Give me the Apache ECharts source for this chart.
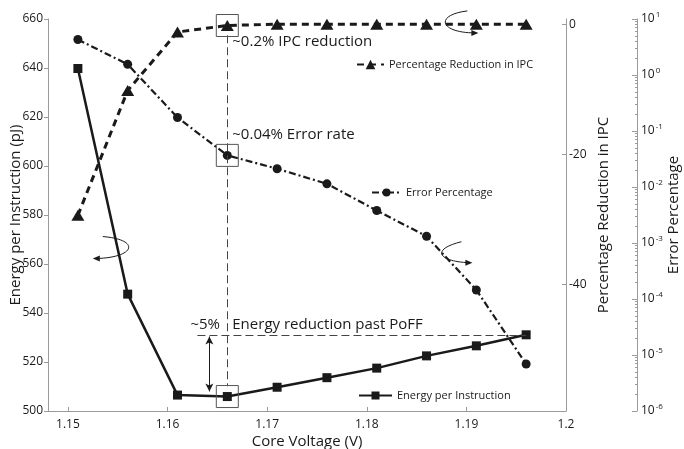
<!DOCTYPE html>
<html>
<head>
<meta charset="utf-8">
<script src="https://cdn.jsdelivr.net/npm/echarts@6/dist/echarts.min.js"></script>
<style>
  html, body { margin: 0; padding: 0; background: #fff; }
  #main { width: 684px; height: 449px; }
</style>
</head>
<body>
<div id="main"></div>
<script>
const voltage = [1.151, 1.156, 1.161, 1.166, 1.171, 1.176, 1.181, 1.186, 1.191, 1.196]
const energy = [639.8, 547.7, 506.5, 505.9, 509.7, 513.6, 517.5, 522.5, 526.6, 531.1]
const ipcReduction = [-29.4, -10.2, -1.2, -0.2, 0, 0, 0, 0, 0, 0]
const errorPct = [4.3, 1.55, 0.174, 0.0367, 0.0212, 0.0114, 0.0038, 0.00132, 0.000145, 0.0000069]

const xTicks = [1.15, 1.16, 1.17, 1.18, 1.19, 1.2]
const ipcTicks = [-40, -20, 0]

const font = 'Open Sans'
const ink = '#1a1a1a'
const axisGrey = '#9a9a9a'

const zip = (xs, ys) => xs.map((x, i) => [x, ys[i]])

const myChart = echarts.init(document.getElementById('main'))

const option = {
    animation: false,
    textStyle: { fontFamily: font },
    grid: { left: 48, right: 118, top: 19, bottom: 38, containLabel: false, outerBoundsMode: 'none' },
    legend: [
        {
            data: ['Percentage Reduction in IPC'],
            left: 351, top: 54,
            itemWidth: 27, itemHeight: 12,
            textStyle: { fontSize: 11, color: ink, fontFamily: font }
        },
        {
            data: ['Error Percentage'],
            left: 366, top: 182,
            itemWidth: 29, itemHeight: 10,
            textStyle: { fontSize: 11, color: ink, fontFamily: font }
        },
        {
            data: ['Energy per Instruction'],
            left: 353, top: 385,
            itemWidth: 33, itemHeight: 10,
            textStyle: { fontSize: 11, color: ink, fontFamily: font }
        }
    ],
    xAxis: {
        type: 'value',
        min: 1.148,
        max: 1.2,
        name: 'Core Voltage (V)',
        nameLocation: 'middle',
        nameGap: 23,
        nameMoveOverlap: false,
        nameTextStyle: { fontSize: 15, color: ink },
        axisLine: { onZero: false, lineStyle: { color: axisGrey } },
        axisTick: { inside: true, length: 4, customValues: xTicks, lineStyle: { color: axisGrey } },
        axisLabel: {
            customValues: xTicks,
            margin: 8,
            fontSize: 12,
            color: ink,
            formatter: v => String(+v.toFixed(2))
        },
        splitLine: { show: false }
    },
    yAxis: [
        {
            type: 'value',
            min: 500,
            max: 660,
            interval: 20,
            position: 'left',
            name: 'Energy per Instruction (pJ)',
            nameLocation: 'middle',
            nameGap: 25,
            nameMoveOverlap: false,
            nameTextStyle: { fontSize: 15, color: ink },
            axisLine: { show: true, onZero: false, lineStyle: { color: axisGrey } },
            axisTick: { show: true, length: 4, lineStyle: { color: axisGrey } },
            axisLabel: { fontSize: 12, color: ink, margin: 5 },
            splitLine: { show: false }
        },
        {
            type: 'value',
            min: -59.5,
            max: 0.8,
            position: 'right',
            name: 'Percentage Reduction in IPC',
            nameLocation: 'middle',
            nameGap: 30,
            nameMoveOverlap: false,
            nameTextStyle: { fontSize: 15, color: ink },
            axisLine: { show: true, onZero: false, lineStyle: { color: axisGrey } },
            axisTick: { show: true, inside: true, length: 4, customValues: ipcTicks, lineStyle: { color: axisGrey } },
            axisLabel: { customValues: ipcTicks, fontSize: 12, color: ink, margin: 3 },
            splitLine: { show: false }
        },
        {
            type: 'log',
            logBase: 10,
            min: 1e-6,
            max: 10,
            position: 'right',
            offset: 71,
            name: 'Error Percentage',
            nameLocation: 'middle',
            nameGap: 29,
            nameMoveOverlap: false,
            nameTextStyle: { fontSize: 15, color: ink },
            axisLine: { show: true, onZero: false, lineStyle: { color: axisGrey } },
            axisTick: { show: true, inside: true, length: 5, lineStyle: { color: axisGrey } },
            minorTick: { show: true, splitNumber: 9, length: 2, lineStyle: { color: axisGrey } },
            axisLabel: {
                fontSize: 12,
                color: ink,
                margin: 4,
                formatter: v => '10{sup|' + Math.round(Math.log10(v)) + '}',
                rich: { sup: { fontSize: 8, verticalAlign: 'top', padding: [0, 0, 9, 1], color: ink } }
            },
            splitLine: { show: false }
        }
    ],
    series: [
        {
            name: 'Energy per Instruction',
            type: 'line',
            yAxisIndex: 0,
            data: zip(voltage, energy),
            symbol: 'rect',
            symbolSize: 9,
            lineStyle: { color: ink, width: 2.5 },
            itemStyle: { color: ink },
            markPoint: {
                silent: true,
                symbol: 'rect',
                symbolSize: 22,
                label: { show: false },
                itemStyle: { color: 'rgba(0,0,0,0)', borderColor: '#555', borderWidth: 1 },
                data: [{ coord: [voltage[3], energy[3]] }]
            },
            markLine: {
                silent: true,
                symbol: 'none',
                label: { show: false },
                data: [
                    [
                        { coord: [1.163, energy[9]], lineStyle: { type: [8, 4], width: 1, color: '#444' } },
                        { coord: [voltage[9], energy[9]] }
                    ],
                    [
                        { coord: [1.1642, 530.4], symbol: 'arrow', symbolSize: [6, 8], lineStyle: { type: 'solid', width: 1, color: ink } },
                        { coord: [1.1642, 508.0], symbol: 'arrow', symbolSize: [6, 8] }
                    ]
                ]
            }
        },
        {
            name: 'Percentage Reduction in IPC',
            type: 'line',
            yAxisIndex: 1,
            data: zip(voltage, ipcReduction),
            symbol: 'triangle',
            symbolSize: [13, 11],
            lineStyle: { color: ink, width: 3, type: [7, 5] },
            itemStyle: { color: ink },
            markPoint: {
                silent: true,
                symbol: 'rect',
                symbolSize: 22,
                label: { show: false },
                itemStyle: { color: 'rgba(0,0,0,0)', borderColor: '#555', borderWidth: 1 },
                data: [{ coord: [voltage[3], ipcReduction[3]] }]
            },
            markLine: {
                silent: true,
                symbol: 'none',
                label: { show: false },
                lineStyle: { type: [8, 4], width: 1, color: '#444' },
                data: [[{ coord: [voltage[3], -1.7] }, { coord: [voltage[3], -55.7] }]]
            }
        },
        {
            name: 'Error Percentage',
            type: 'line',
            yAxisIndex: 2,
            data: zip(voltage, errorPct),
            symbol: 'circle',
            symbolSize: 9,
            lineStyle: { color: ink, width: 2.2, type: [7, 3, 2, 3] },
            itemStyle: { color: ink },
            markPoint: {
                silent: true,
                symbol: 'rect',
                symbolSize: 22,
                label: { show: false },
                itemStyle: { color: 'rgba(0,0,0,0)', borderColor: '#555', borderWidth: 1 },
                data: [{ coord: [voltage[3], errorPct[3]] }]
            }
        }
    ]
}

myChart.setOption(option)

// annotations placed through the energy axis
const px = (x, y) => myChart.convertToPixel({ xAxisIndex: 0, yAxisIndex: 0 }, [x, y])

const note = (x, y, text) => {
    const p = px(x, y)
    return {
        type: 'text',
        x: p[0],
        y: p[1],
        silent: true,
        style: { text, fontSize: 15, fontFamily: font, fill: ink, verticalAlign: 'middle' }
    }
}

// curved "which axis" arrows: anchor in data space, shape in local pixels
const curl = (x, y, c1, c2, end, dir) => {
    const p = px(x, y)
    const tip = [end[0] + 3 * dir, end[1]]
    return {
        type: 'group',
        x: p[0],
        y: p[1],
        silent: true,
        children: [
            {
                type: 'bezierCurve',
                shape: { x1: 0, y1: 0, cpx1: c1[0], cpy1: c1[1], cpx2: c2[0], cpy2: c2[1], x2: end[0], y2: end[1] },
                style: { stroke: ink, lineWidth: 1, fill: null }
            },
            {
                type: 'polygon',
                shape: { points: [tip, [tip[0] - 7 * dir, tip[1] - 3], [tip[0] - 7 * dir, tip[1] + 3]] },
                style: { fill: ink }
            }
        ]
    }
}

myChart.setOption({
    graphic: [
        note(1.1665, 650.6, '~0.2% IPC reduction'),
        note(1.1665, 612.9, '~0.04% Error rate'),
        note(1.1623, 535.2, '~5%'),
        note(1.1665, 535.2, 'Energy reduction past PoFF'),
        curl(1.1535, 571.2, [38, 3], [33, 21], [-7, 22], -1),
        curl(1.1901, 663.3, [-33, 4], [-28, 22], [8, 22], 1),
        curl(1.1895, 569.1, [-32, 8], [-22, 20], [8, 21], 1)
    ]
})
</script>
</body>
</html>
